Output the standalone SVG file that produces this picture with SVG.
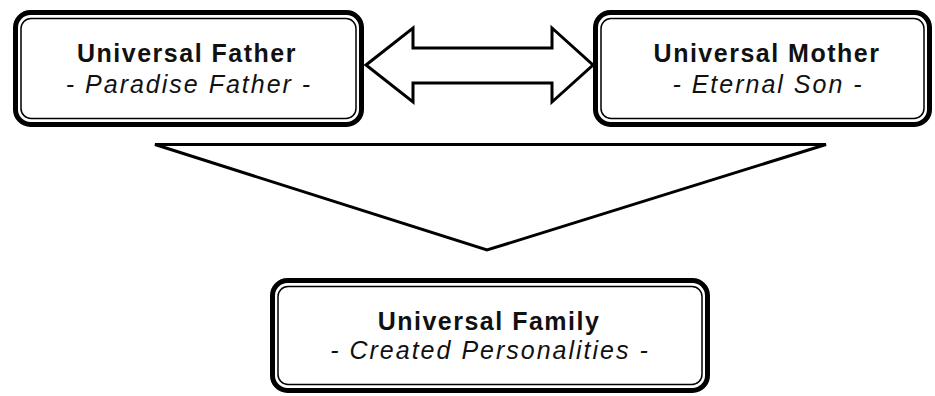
<svg xmlns="http://www.w3.org/2000/svg" width="935" height="396" viewBox="0 0 935 396">
<style>
.outer{fill:#fff;stroke:#000;stroke-width:5}
.inner{fill:none;stroke:#000;stroke-width:1.5}
.conn{fill:#fff;stroke:#000;stroke-width:3;stroke-linejoin:miter}
.t1{font-family:"Liberation Sans",Arial,sans-serif;font-weight:bold;font-size:25px;letter-spacing:1.5px;text-anchor:middle;fill:#111}
.t2{font-family:"Liberation Sans",Arial,sans-serif;font-style:italic;font-size:25px;letter-spacing:2px;text-anchor:middle;fill:#111}
</style>
<rect width="935" height="396" fill="#fff"/>
<g id="connectors">
<path class="conn" d="M366,65 L413,28 L413,48 L552,48 L552,28 L593,65 L552,102 L552,83 L413,83 L413,102 Z"/>
<path class="conn" d="M155,144.5 L826,144.5 L487,250 Z" fill="none"/>
</g>
<g id="father">
<rect class="outer" x="15.5" y="12.5" width="346" height="112" rx="15"/>
<rect class="inner" x="21" y="18.5" width="335" height="100" rx="10"/>
<text class="t1" x="187" y="62">Universal Father</text>
<text class="t2" x="189" y="93">- Paradise Father -</text>
</g>
<g id="mother">
<rect class="outer" x="595.5" y="12.5" width="334" height="112" rx="15"/>
<rect class="inner" x="601" y="18.5" width="323" height="100" rx="10"/>
<text class="t1" x="767" y="62">Universal Mother</text>
<text class="t2" x="768" y="93">- Eternal Son -</text>
</g>
<g id="family">
<rect class="outer" x="272.5" y="280.5" width="435" height="110" rx="15"/>
<rect class="inner" x="278" y="286.5" width="424" height="98" rx="10"/>
<text class="t1" x="489" y="330">Universal Family</text>
<text class="t2" x="490" y="359">- Created Personalities -</text>
</g>
</svg>
